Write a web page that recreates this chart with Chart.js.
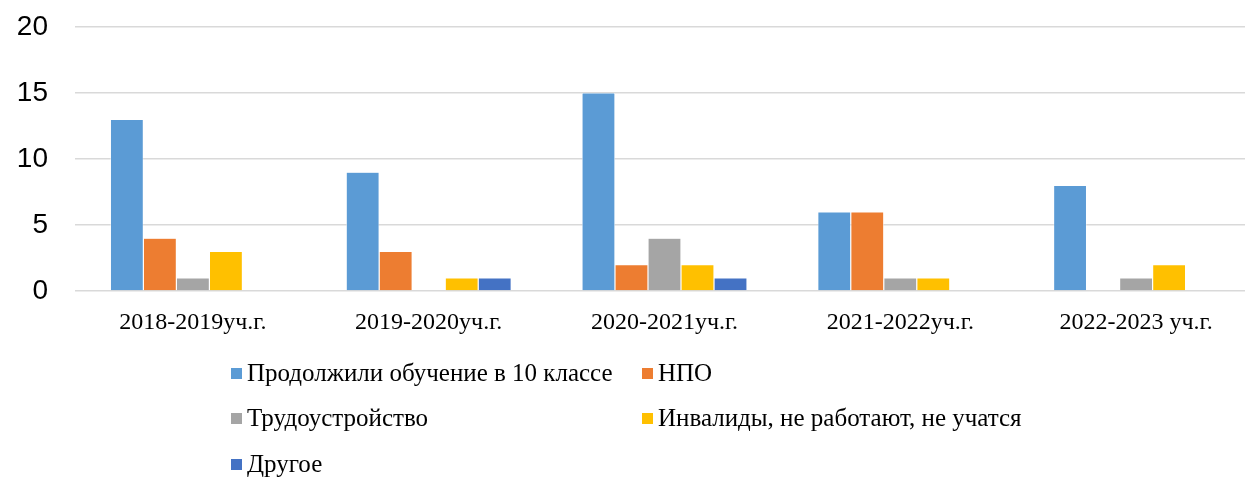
<!DOCTYPE html>
<html><head><meta charset="utf-8">
<script src="https://cdn.jsdelivr.net/npm/chart.js@4/dist/chart.umd.min.js"></script>
<style>
html,body{margin:0;padding:0;background:#fff;overflow:hidden;width:1245px;height:477px;}
#wrap{position:absolute;left:0;top:0;width:1245px;height:340px;overflow:hidden;}
#legend{position:absolute;left:0;top:0;width:1245px;height:477px;font-family:"Liberation Serif","Times New Roman",serif;font-size:25px;color:#000;pointer-events:none;}
.li{position:absolute;white-space:nowrap;line-height:28px;}
.sw{display:inline-block;width:11px;height:11px;margin-right:5px;vertical-align:2px;}
</style></head>
<body>
<div id="wrap"><canvas id="c" width="1254" height="340"></canvas></div>
<div id="legend"></div>
<script>
const categories = ["2018-2019уч.г.", "2019-2020уч.г.", "2020-2021уч.г.", "2021-2022уч.г.", "2022-2023 уч.г."];
const seriesNames = ["Продолжили обучение в 10 классе", "НПО", "Трудоустройство", "Инвалиды, не работают, не учатся", "Другое"];
const continued = [13, 9, 15, 6, 8];
const npo = [4, 3, 2, 6, 0];
const employment = [1, 0, 4, 1, 1];
const disabled = [3, 1, 2, 1, 2];
const other = [0, 1, 1, 0, 0];
const yTicks = [0, 5, 10, 15, 20];
const colors = ["#5B9BD5", "#ED7D31", "#A5A5A5", "#FFC000", "#4472C4"];
const seriesValues = [continued, npo, employment, disabled, other];

const datasets = seriesValues.map((vals, i) => ({
  label: seriesNames[i],
  data: vals,
  backgroundColor: colors[i],
  borderColor: "#ffffff",
  borderWidth: 0.6,
  barPercentage: 1.0,
  categoryPercentage: 0.70
}));

new Chart(document.getElementById("c"), {
  type: "bar",
  data: { labels: categories, datasets },
  options: {
    responsive: false,
    animation: false,
    layout: { padding: { top: 27, right: 0, left: 0, bottom: 0 } },
    plugins: { legend: { display: false }, tooltip: { enabled: false } },
    scales: {
      x: {
        grid: { display: false, drawTicks: false },
        border: { display: false },
        ticks: { color: "#000", font: { family: "Liberation Serif", size: 24 }, padding: 17, maxRotation: 0 },
        afterFit: s => { s.height = 49; }
      },
      y: {
        min: 0, max: 20,
        afterBuildTicks: s => { s.ticks = yTicks.map(v => ({ value: v })); },
        grid: { color: "#D9D9D9", lineWidth: 1.5, drawTicks: true, tickLength: 27, tickColor: "rgba(0,0,0,0)" },
        border: { display: false },
        ticks: { color: "#000", font: { family: "Liberation Sans", size: 28 }, padding: 0 },
        afterFit: s => { s.width = 75; }
      }
    }
  }
});

const legend = document.getElementById("legend");
const pos = [[231, 359], [642, 359], [231, 404], [642, 404], [231, 450]];
seriesNames.forEach((n, i) => {
  const d = document.createElement("div");
  d.className = "li";
  d.style.left = pos[i][0] + "px";
  d.style.top = pos[i][1] + "px";
  d.innerHTML = '<span class="sw" style="background:' + colors[i] + '"></span>' + n;
  legend.appendChild(d);
});
</script>
</body></html>
